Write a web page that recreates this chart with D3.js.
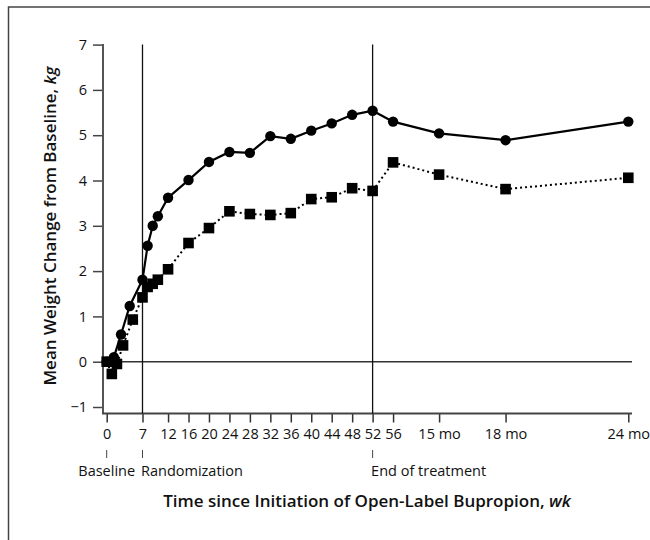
<!DOCTYPE html>
<html>
<head>
<meta charset="utf-8">
<script src="https://cdn.jsdelivr.net/npm/d3@7"></script>
<style>
    body { margin: 0; background: #fff; }
    svg { display: block; font-family: "Open Sans", sans-serif; }
    .tick text { font-family: "Open Sans", sans-serif; font-size: 14.5px; fill: #111; }
</style>
</head>
<body>
<div class="chart"></div>
<script>
// weeks since start; months are placed where the picture puts them
const circleWeeks = [0, 1.4, 2.8, 4.5, 7, 8, 9, 10, 12, 16, 20, 24, 28, 32, 36, 40, 44, 48, 52, 56, 65, 78, 102];
const circleValues = [0, 0.1, 0.6, 1.23, 1.81, 2.56, 3.0, 3.21, 3.62, 4.01, 4.41, 4.63, 4.61, 4.98, 4.92, 5.1, 5.26, 5.45, 5.54, 5.3, 5.04, 4.89, 5.3];

const squareWeeks = [0, 1, 2, 3.2, 5.1, 7, 8, 9, 10, 12, 16, 20, 24, 28, 32, 36, 40, 44, 48, 52, 56, 65, 78, 102];
const squareValues = [0, -0.27, -0.05, 0.36, 0.93, 1.42, 1.65, 1.72, 1.81, 2.04, 2.62, 2.95, 3.32, 3.26, 3.24, 3.28, 3.59, 3.63, 3.83, 3.77, 4.4, 4.13, 3.81, 4.06];

const xTickValues = [0, 7, 12, 16, 20, 24, 28, 32, 36, 40, 44, 48, 52, 56, 65, 78, 102];
const xTickLabels = ["0", "7", "12", "16", "20", "24", "28", "32", "36", "40", "44", "48", "52", "56", "15 mo", "18 mo", "24 mo"];
const yTickValues = [-1, 0, 1, 2, 3, 4, 5, 6, 7];

const markerWeeks = [0, 7, 52];
const markerLabels = ["Baseline", "Randomization", "End of treatment"];
const markerAnchors = ["middle", "start", "start"];

const width = 650, height = 540;

const svg = d3.select(".chart").append("svg")
    .attr("width", width)
    .attr("height", height);

// frame (only top/left edges fall inside the picture)
svg.append("rect")
    .attr("x", 8.5).attr("y", 7)
    .attr("width", 700).attr("height", 600)
    .attr("fill", "none")
    .attr("stroke", "#444")
    .attr("stroke-width", 1.5);

const xScale = d3.scaleLinear().domain([0, 102]).range([106.7, 628.3]);
const yScale = d3.scaleLinear().domain([-1, 7]).range([407, 44.6]);

const axisY = 413.5;     // x axis line position
const axisX = 103;       // y axis line position
const plotRight = 632;

// y axis
const yAxis = svg.append("g")
    .attr("transform", `translate(${axisX},0)`)
    .call(d3.axisLeft(yScale).tickValues(yTickValues).tickSize(10).tickPadding(6)
        .tickFormat(d => d < 0 ? "\u2212" + Math.abs(d) : d));
yAxis.select(".domain").remove();
yAxis.selectAll(".tick line").attr("stroke", "#444").attr("stroke-width", 1.5);
yAxis.append("line")
    .attr("x1", 0).attr("x2", 0)
    .attr("y1", yScale(7) - 0.5).attr("y2", axisY)
    .attr("stroke", "#555").attr("stroke-width", 2);

// x axis
const xAxis = svg.append("g")
    .attr("transform", `translate(0,${axisY})`)
    .call(d3.axisBottom(xScale).tickValues(xTickValues).tickSize(9).tickPadding(6)
        .tickFormat((d, i) => xTickLabels[i]));
xAxis.select(".domain").remove();
xAxis.selectAll(".tick line").attr("stroke", "#333").attr("stroke-width", 1.5);
xAxis.append("line")
    .attr("x1", axisX - 1).attr("x2", plotRight)
    .attr("y1", 0).attr("y2", 0)
    .attr("stroke", "#444").attr("stroke-width", 2);

// zero line
svg.append("line")
    .attr("x1", axisX).attr("x2", plotRight)
    .attr("y1", yScale(0)).attr("y2", yScale(0))
    .attr("stroke", "#333").attr("stroke-width", 1.5);

// randomization / end of treatment lines
svg.selectAll(".vline")
    .data([7, 52])
    .enter().append("line")
    .attr("class", "vline")
    .attr("x1", d => xScale(d)).attr("x2", d => xScale(d))
    .attr("y1", yScale(7)).attr("y2", axisY)
    .attr("stroke", "#111").attr("stroke-width", 1.3);

// event markers below the axis
markerWeeks.forEach((w, i) => {
    svg.append("line")
        .attr("x1", xScale(w)).attr("x2", xScale(w))
        .attr("y1", 450).attr("y2", 458)
        .attr("stroke", "#444").attr("stroke-width", 1);
    svg.append("text")
        .attr("x", xScale(w) + (markerAnchors[i] === "start" ? -1.5 : 0))
        .attr("y", 476)
        .attr("text-anchor", markerAnchors[i])
        .attr("font-size", 14.5)
        .attr("fill", "#111")
        .text(markerLabels[i]);
});

// series lines
const circleData = circleWeeks.map((w, i) => ({ x: w, y: circleValues[i] }));
const squareData = squareWeeks.map((w, i) => ({ x: w, y: squareValues[i] }));

const line = d3.line()
    .x(d => xScale(d.x))
    .y(d => yScale(d.y));

svg.append("path")
    .datum(squareData)
    .attr("d", line)
    .attr("fill", "none")
    .attr("stroke", "#000")
    .attr("stroke-width", 2)
    .attr("stroke-dasharray", "2,3");

svg.append("path")
    .datum(circleData)
    .attr("d", line)
    .attr("fill", "none")
    .attr("stroke", "#000")
    .attr("stroke-width", 2.2);

svg.selectAll(".sq")
    .data(squareData)
    .enter().append("rect")
    .attr("class", "sq")
    .attr("x", d => xScale(d.x) - 5.3)
    .attr("y", d => yScale(d.y) - 5.3)
    .attr("width", 10.6).attr("height", 10.6)
    .attr("fill", "#000");

svg.selectAll(".dot")
    .data(circleData)
    .enter().append("circle")
    .attr("class", "dot")
    .attr("cx", d => xScale(d.x))
    .attr("cy", d => yScale(d.y))
    .attr("r", 5.2)
    .attr("fill", "#000");

// axis titles
svg.append("text")
    .attr("x", 367).attr("y", 507)
    .attr("text-anchor", "middle")
    .attr("font-size", 17)
    .attr("font-weight", 600)
    .attr("fill", "#111")
    .html('Time since Initiation of Open-Label Bupropion, <tspan font-style="italic">wk</tspan>');

svg.append("text")
    .attr("transform", `translate(56,226) rotate(-90)`)
    .attr("text-anchor", "middle")
    .attr("font-size", 17)
    .attr("font-weight", 600)
    .attr("fill", "#111")
    .html('Mean Weight Change from Baseline, <tspan font-style="italic">kg</tspan>');
</script>
</body>
</html>
